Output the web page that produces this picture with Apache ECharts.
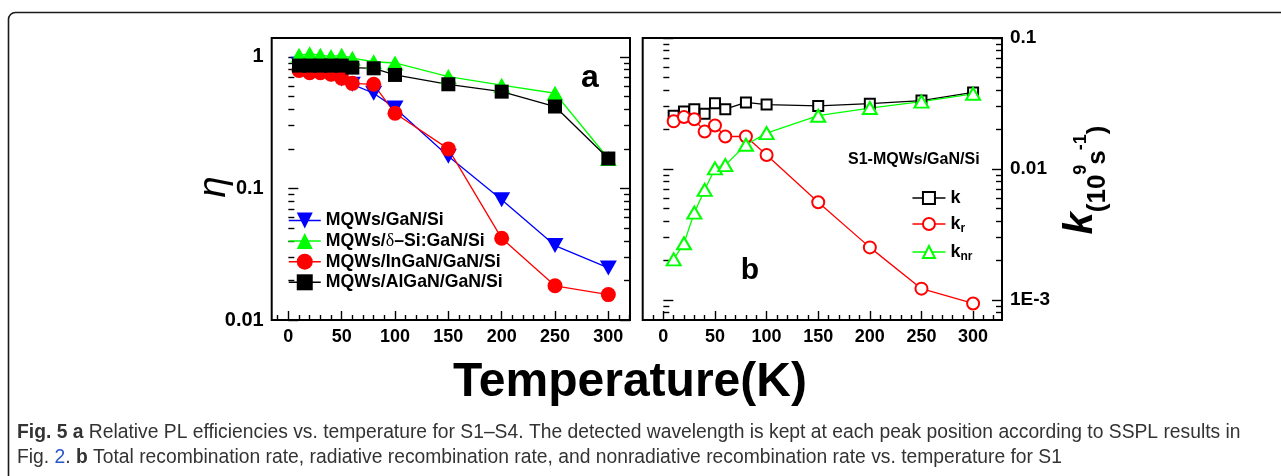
<!DOCTYPE html>
<html><head><meta charset="utf-8">
<script src="https://cdn.jsdelivr.net/npm/echarts@6/dist/echarts.min.js"></script>
<style>html,body{margin:0;padding:0;background:#fff}#c{width:1281px;height:476px}</style>
</head><body><div id="c"></div>
<script>
// ---------- data ----------
const temps = [10, 20, 30, 40, 50, 60, 80, 100, 150, 200, 250, 300];
// panel a: relative PL efficiency
const etaGaN      = [0.88, 0.83, 0.80, 0.74, 0.68, 0.62, 0.53, 0.41, 0.176, 0.082, 0.0368, 0.0249];
const etaDeltaSi  = [1.03, 1.06, 1.03, 1.01, 1.03, 0.98, 0.92, 0.90, 0.71, 0.61, 0.53, 0.169];
const etaInGaN    = [0.79, 0.76, 0.76, 0.74, 0.69, 0.63, 0.62, 0.373, 0.20, 0.0418, 0.0182, 0.0156];
const etaAlGaN    = [0.86, 0.86, 0.86, 0.86, 0.86, 0.83, 0.82, 0.73, 0.62, 0.545, 0.42, 0.169];
// panel b: recombination rates (1e9 s^-1)
const kTotal  = [0.0255, 0.0275, 0.0286, 0.0264, 0.0318, 0.0286, 0.0322, 0.031, 0.0303, 0.0315, 0.0333, 0.0384];
const kRad    = [0.0231, 0.0249, 0.024, 0.0193, 0.0215, 0.0177, 0.0177, 0.0128, 0.00557, 0.00252, 0.00122, 0.00094];
const kNonRad = [0.00204, 0.00271, 0.00464, 0.00692, 0.0101, 0.0107, 0.0153, 0.0188, 0.0255, 0.0292, 0.0327, 0.0375];

const seriesNamesA = ['MQWs/GaN/Si', 'MQWs/δ–Si:GaN/Si', 'MQWs/InGaN/GaN/Si', 'MQWs/AlGaN/GaN/Si'];
const seriesNamesB = ['k', 'kr', 'knr'];

// ticks
const xTickValues = [0, 50, 100, 150, 200, 250, 300];
const xTickLabels = ['0', '50', '100', '150', '200', '250', '300'];
const xMinorTicks = [-10, 10, 20, 30, 40, 60, 70, 80, 90, 110, 120, 130, 140, 160, 170, 180, 190, 210, 220, 230, 240, 260, 270, 280, 290, 310, 320];
const yTickValuesA = [0.01, 0.1, 1];
const yTickLabelsA = ['0.01', '0.1', '1'];
const yMinorTicksA = [0.02, 0.03, 0.04, 0.05, 0.06, 0.07, 0.08, 0.09, 0.2, 0.3, 0.4, 0.5, 0.6, 0.7, 0.8, 0.9];
const yTickValuesB = [0.001, 0.01, 0.1];
const yTickLabelsB = ['1E-3', '0.01', '0.1'];
const yMinorTicksB = [0.0008, 0.0009, 0.002, 0.003, 0.004, 0.005, 0.006, 0.007, 0.008, 0.009, 0.02, 0.03, 0.04, 0.05, 0.06, 0.07, 0.08, 0.09];

// ---------- chart ----------
const FF = 'Liberation Sans, Arial, sans-serif';
const chart = echarts.init(document.getElementById('c'), null, {renderer: 'canvas'});

function pick(vals, labels) {
  return function (v) {
    for (let i = 0; i < vals.length; i++) {
      if (Math.abs(Math.log10(v) - Math.log10(vals[i])) < 1e-6 || v === vals[i]) return labels[i];
    }
    return '';
  };
}
function pickLin(vals, labels) {
  return function (v) {
    for (let i = 0; i < vals.length; i++) if (Math.abs(v - vals[i]) < 1e-6) return labels[i];
    return '';
  };
}
const tickLine = {color: '#000', width: 1.4};
function xAx(grid, min, max, ticks, len, labels) {
  return {
    type: 'value', gridIndex: grid, position: 'bottom', min: min, max: max,
    axisLine: {show: false}, splitLine: {show: false},
    axisTick: {show: true, inside: true, length: len, lineStyle: tickLine, customValues: ticks},
    axisLabel: labels ? {show: true, customValues: xTickValues, formatter: pickLin(xTickValues, xTickLabels),
      fontSize: 18, fontWeight: 'bold', fontFamily: FF, color: '#000', margin: 8} : {show: false}
  };
}
function yAx(grid, pos, min, max, ticks, len, labelVals, labelTexts, fs) {
  return {
    type: 'log', logBase: 10, gridIndex: grid, position: pos, min: min, max: max,
    axisLine: {show: false}, splitLine: {show: false},
    axisTick: {show: true, inside: true, length: len, lineStyle: tickLine, customValues: ticks},
    axisLabel: labelVals ? {show: true, customValues: labelVals, formatter: pick(labelVals, labelTexts),
      fontSize: fs, fontWeight: 'bold', fontFamily: FF, color: '#000', margin: 8} : {show: false}
  };
}
function zip(vals) { return temps.map((t, i) => [t, vals[i]]); }

const DOWN_TRI = 'path://M0,0L10,0L5,10Z';
function filledSeries(name, vals, color, symbol, size) {
  return {name: name, type: 'line', xAxisIndex: 0, yAxisIndex: 0, data: zip(vals),
    symbol: symbol, symbolSize: size, showSymbol: true, showAllSymbol: true,
    itemStyle: {color: color, borderWidth: 0}, lineStyle: {color: color, width: 1.3}};
}
function hollowSeries(name, vals, color, symbol, size) {
  return {name: name, type: 'line', xAxisIndex: 2, yAxisIndex: 6, data: zip(vals),
    symbol: symbol, symbolSize: size, showSymbol: true, showAllSymbol: true,
    itemStyle: {color: '#fff', borderColor: color, borderWidth: 2}, lineStyle: {color: color, width: 1.3}};
}
const CAP = '19.3px Liberation Sans, Arial, sans-serif';

const option = {
  animation: false,
  backgroundColor: '#fff',
  grid: [
    {left: 271.7, top: 38, width: 358.3, height: 282, show: true, borderColor: '#000', borderWidth: 2, backgroundColor: 'transparent', outerBoundsMode: 'none'},
    {left: 642.7, top: 38, width: 359.3, height: 282, show: true, borderColor: '#000', borderWidth: 2, backgroundColor: 'transparent', outerBoundsMode: 'none'}
  ],
  xAxis: [
    xAx(0, -15.6, 320.3, xTickValues, 9, true),
    xAx(0, -15.6, 320.3, xMinorTicks, 5, false),
    xAx(1, -20, 328, xTickValues, 9, true),
    xAx(1, -20, 328, xMinorTicks, 5, false)
  ],
  yAxis: [
    yAx(0, 'left', 0.01, 1.394, yTickValuesA, 10, yTickValuesA, yTickLabelsA, 20),
    yAx(0, 'left', 0.01, 1.394, yMinorTicksA, 6),
    yAx(0, 'right', 0.01, 1.394, yTickValuesA, 10),
    yAx(0, 'right', 0.01, 1.394, yMinorTicksA, 6),
    yAx(1, 'left', 0.000703, 0.1, yTickValuesB, 10),
    yAx(1, 'left', 0.000703, 0.1, yMinorTicksB, 6),
    yAx(1, 'right', 0.000703, 0.1, yTickValuesB, 10, yTickValuesB, yTickLabelsB, 19),
    yAx(1, 'right', 0.000703, 0.1, yMinorTicksB, 6)
  ],
  legend: [
    {data: seriesNamesA, orient: 'vertical', left: 288, top: 211.5, padding: 0,
     itemWidth: 32, itemHeight: 20, itemGap: 2.6, selectedMode: false,
     lineStyle: {width: 1.5},
     formatter: function (n) {
       if (n.indexOf('δ') >= 0) return '{a|MQWs/}{d|δ}{a|–Si:GaN/Si}';
       return '{a|' + n + '}';
     },
     textStyle: {color: '#000', rich: {
       a: {fontSize: 17.7, fontWeight: 'bold', fontFamily: FF, color: '#000'},
       d: {fontSize: 18, fontWeight: 'normal', fontFamily: 'Liberation Serif, serif', color: '#000'}
     }}},
    {data: seriesNamesB, orient: 'vertical', left: 911.7, top: 189, padding: 0,
     itemWidth: 33, itemHeight: 15, itemGap: 8, selectedMode: false,
     lineStyle: {width: 1.5},
     formatter: function (n) {
       if (n === 'kr') return '{m|k}{s|r}';
       if (n === 'knr') return '{m|k}{s|nr}';
       return '{m|k}';
     },
     textStyle: {color: '#000', rich: {
       m: {fontSize: 18, fontWeight: 'bold', fontFamily: FF, color: '#000', lineHeight: 22},
       s: {fontSize: 12, fontWeight: 'bold', fontFamily: FF, color: '#000', lineHeight: 12, verticalAlign: 'bottom'}
     }}}
  ],
  series: [
    filledSeries(seriesNamesA[0], etaGaN, '#0000ff', DOWN_TRI, [17, 15]),
    filledSeries(seriesNamesA[1], etaDeltaSi, '#00ff00', 'triangle', [17, 15]),
    filledSeries(seriesNamesA[2], etaInGaN, '#ff0000', 'circle', 15),
    filledSeries(seriesNamesA[3], etaAlGaN, '#000000', 'rect', 14),
    hollowSeries(seriesNamesB[0], kTotal, '#000000', 'rect', 10),
    hollowSeries(seriesNamesB[1], kRad, '#ff0000', 'circle', 12),
    hollowSeries(seriesNamesB[2], kNonRad, '#00ff00', 'triangle', [14, 12])
  ],
  graphic: {elements: [
    {type: 'rect', shape: {x: 8.5, y: 12.5, width: 1320, height: 520, r: 7}, silent: true,
     style: {fill: null, stroke: '#1a1a1a', lineWidth: 1.6}},
    {type: 'text', x: 214, y: 187, rotation: Math.PI / 2, silent: true,
     style: {text: 'η', font: 'italic 38px ' + FF, fill: '#000', align: 'center', verticalAlign: 'middle'}},
    {type: 'text', x: 1081, y: 180, rotation: Math.PI / 2, silent: true,
     style: {text: '{k|k}{p|(10}{u|9}{p|s}{u|-1}{p|)}', align: 'center', verticalAlign: 'middle', fill: '#000',
       rich: {
         k: {fontSize: 40, fontWeight: 'bold', fontStyle: 'italic', fontFamily: FF, lineHeight: 60, fill: '#000'},
         p: {fontSize: 26, fontWeight: 'bold', fontFamily: FF, verticalAlign: 'bottom', fill: '#000'},
         u: {fontSize: 18, fontWeight: 'bold', fontFamily: FF, fill: '#000'}
       }}},
    {type: 'text', x: 590, y: 78.5, silent: true,
     style: {text: 'a', font: 'bold 32px ' + FF, fill: '#000', align: 'center', verticalAlign: 'middle'}},
    {type: 'text', x: 750, y: 271, silent: true,
     style: {text: 'b', font: 'bold 30px ' + FF, fill: '#000', align: 'center', verticalAlign: 'middle'}},
    {type: 'text', x: 848, y: 160, silent: true,
     style: {text: 'S1-MQWs/GaN/Si', font: 'bold 16px ' + FF, fill: '#000', align: 'left', verticalAlign: 'middle'}},
    {type: 'text', x: 630, y: 383, silent: true,
     style: {text: 'Temperature(K)', font: 'bold 48px ' + FF, fill: '#000', align: 'center', verticalAlign: 'middle'}},
    {type: 'text', x: 17, y: 433, silent: true,
     style: {text: '{b|Fig. 5 a} Relative PL efficiencies vs. temperature for S1–S4. The detected wavelength is kept at each peak position according to SSPL results in',
       font: CAP, fill: '#333', align: 'left', verticalAlign: 'middle',
       rich: {b: {fontWeight: 'bold', fontSize: 19.3, fontFamily: FF, fill: '#333'}}}},
    {type: 'text', x: 17, y: 458, silent: true,
     style: {text: 'Fig. {l|2}. {b|b} Total recombination rate, radiative recombination rate, and nonradiative recombination rate vs. temperature for S1',
       font: CAP, fill: '#333', align: 'left', verticalAlign: 'middle',
       rich: {
         b: {fontWeight: 'bold', fontSize: 19.3, fontFamily: FF, fill: '#333'},
         l: {fontSize: 19.3, fontFamily: FF, fill: '#2a55c9'}
       }}}
  ]}
};
chart.setOption(option);
</script>
</body></html>
